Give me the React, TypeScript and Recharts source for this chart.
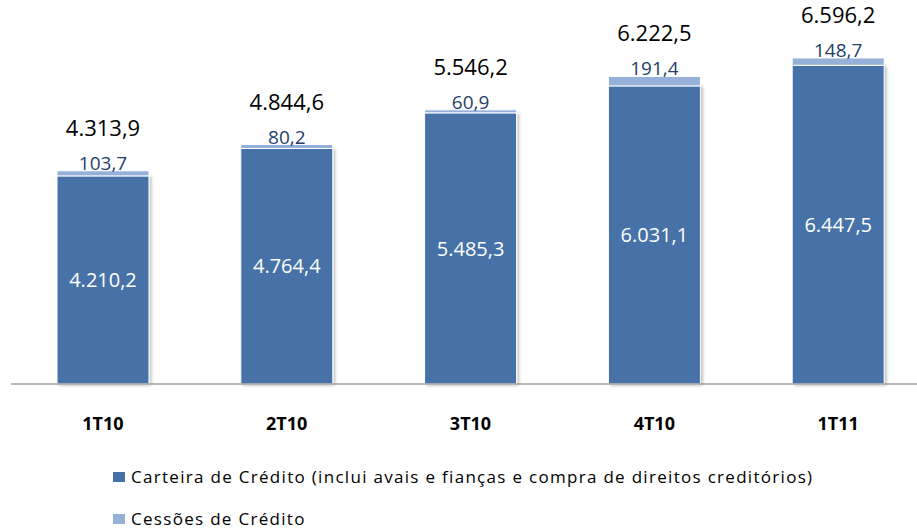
import React from "react";
import { Bar, BarChart, LabelList, XAxis, YAxis } from "recharts";

const quarters = ["1T10", "2T10", "3T10", "4T10", "1T11"];
const carteira = [4210.2, 4764.4, 5485.3, 6031.1, 6447.5];
const cessoes = [103.7, 80.2, 60.9, 191.4, 148.7];
const totals = [4313.9, 4844.6, 5546.2, 6222.5, 6596.2];
const seriesNames = [
	"Carteira de Crédito (inclui avais e fianças e compra de direitos creditórios)",
	"Cessões de Crédito",
];

const DARK = "#4672A8";
const LIGHT = "#95B1D9";
const FONT = "'Open Sans', 'Noto Sans', sans-serif";

const chartData = quarters.map((q, i) => ({
	quarter: q,
	carteira: carteira[i],
	cessoes: cessoes[i],
}));

// 4210.2 -> "4.210,2"
function fmt(v: number) {
	const [int, dec] = v.toFixed(1).split(".");
	return `${int.replace(/\B(?=(\d{3})+(?!\d))/g, ".")},${dec}`;
}

function QuarterTick({ x, y, payload }: any) {
	return (
		<text
			x={x}
			y={y + 38}
			textAnchor="middle"
			fontFamily={FONT}
			fontWeight={700}
			fontSize={18}
			fill="#000"
		>
			{payload.value}
		</text>
	);
}

function TopLabels(props: any) {
	const { x, y, width, index, value } = props;
	const cx = x + width / 2;
	return (
		<g>
			<text
				x={cx}
				y={y - 1}
				textAnchor="middle"
				fontFamily={FONT}
				fontSize={19}
				fill="#243F6B"
			>
				{fmt(value)}
			</text>
			<text
				x={cx}
				y={y - 35}
				textAnchor="middle"
				fontFamily={FONT}
				fontSize={22}
				fill="#000"
			>
				{fmt(totals[index])}
			</text>
		</g>
	);
}

function LegendBox() {
	const colors = [DARK, LIGHT];
	return (
		<div
			style={{
				position: "absolute",
				left: 113,
				top: 456,
				fontFamily: FONT,
				fontSize: 17,
				letterSpacing: 1.3,
				lineHeight: "22px",
				color: "#000",
			}}
		>
			{seriesNames.map((name, i) => (
				<div key={name} style={{ display: "flex", alignItems: "center", height: 42 }}>
					<span
						style={{
							display: "inline-block",
							width: 12,
							height: 10,
							background: colors[i],
							marginRight: 6,
						}}
					/>
					<span>{name}</span>
				</div>
			))}
		</div>
	);
}

export default function App() {
	return (
		<div
			style={{
				position: "absolute",
				left: 0,
				top: 0,
				width: 917,
				height: 531,
				overflow: "hidden",
				background: "#fff",
			}}
		>
			<BarChart
				width={930}
				height={531}
				data={chartData}
				margin={{ top: 38, right: 0, left: 11, bottom: 107 }}
				barSize={92}
			>
				<defs>
					<filter id="barShadow" x="-10%" y="-10%" width="130%" height="130%">
						<feDropShadow dx="2" dy="1" stdDeviation="1.5" floodColor="#000" floodOpacity="0.25" />
					</filter>
				</defs>
				<XAxis
					dataKey="quarter"
					height={40}
					axisLine={{ stroke: "#A0A0A0", strokeWidth: 1.5 }}
					tickLine={false}
					tick={<QuarterTick />}
					interval={0}
				/>
				<YAxis hide domain={[0, 7000]} />
				<Bar
					dataKey="carteira"
					name={seriesNames[0]}
					stackId="a"
					fill={DARK}
					stroke="#fff"
					strokeWidth={1}
					filter="url(#barShadow)"
					isAnimationActive={false}
				>
					<LabelList
						dataKey="carteira"
						position="center"
						formatter={(v: any) => fmt(Number(v))}
						fill="#fff"
						fontFamily={FONT}
						fontSize={20}
					/>
				</Bar>
				<Bar
					dataKey="cessoes"
					name={seriesNames[1]}
					stackId="a"
					fill={LIGHT}
					stroke="#fff"
					strokeWidth={1}
					isAnimationActive={false}
				>
					<LabelList dataKey="cessoes" content={<TopLabels />} />
				</Bar>
			</BarChart>
			<LegendBox />
		</div>
	);
}
